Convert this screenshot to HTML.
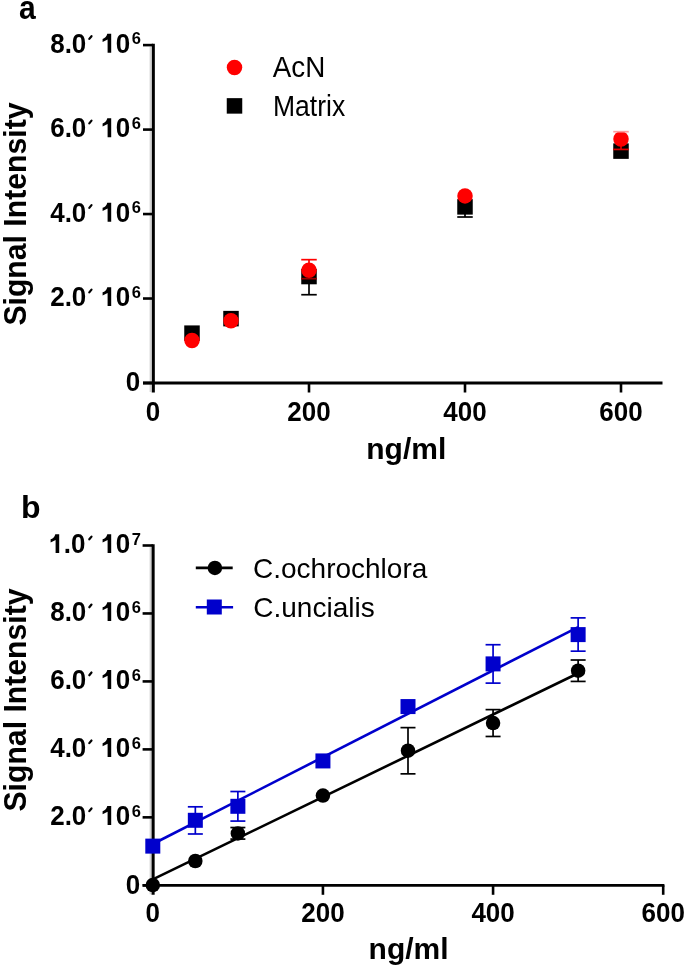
<!DOCTYPE html>
<html><head><meta charset="utf-8"><title>Signal Intensity charts</title>
<style>
html,body{margin:0;padding:0;background:#fff;}
body{width:685px;height:969px;overflow:hidden;}
svg{display:block;will-change:transform;filter:blur(0.4px);font-family:"Liberation Sans",sans-serif;}
</style></head><body>
<svg width="685" height="969" viewBox="0 0 685 969">
<rect width="685" height="969" fill="#fff"/>
<line x1="150.3" y1="46.6" x2="150.3" y2="392" stroke="#d4d4d4" stroke-width="1.4" />
<line x1="153.3" y1="43.8" x2="153.3" y2="392.5" stroke="#000000" stroke-width="3.1" />
<line x1="143" y1="383" x2="662.5" y2="383" stroke="#000000" stroke-width="2.8" />
<line x1="143" y1="383" x2="153" y2="383" stroke="#000000" stroke-width="2.6" />
<line x1="143" y1="298.52" x2="153" y2="298.52" stroke="#000000" stroke-width="2.6" />
<line x1="143" y1="214.05" x2="153" y2="214.05" stroke="#000000" stroke-width="2.6" />
<line x1="143" y1="129.58" x2="153" y2="129.58" stroke="#000000" stroke-width="2.6" />
<line x1="143" y1="45.1" x2="153" y2="45.1" stroke="#000000" stroke-width="2.6" />
<line x1="309" y1="383" x2="309" y2="392.5" stroke="#000000" stroke-width="2.6" />
<line x1="465" y1="383" x2="465" y2="392.5" stroke="#000000" stroke-width="2.6" />
<line x1="621" y1="383" x2="621" y2="392.5" stroke="#000000" stroke-width="2.6" />
<text transform="translate(50.2 52.7) scale(1 1.03)" font-size="26" font-weight="bold">8.0</text>
<path d="M89.3,38.9 L91.5,36.2" stroke="#000" stroke-width="2.2" stroke-linecap="round"/>
<path d="M107.3,33.8 L111.2,33.8 L111.2,52.7 L107.6,52.7 L107.6,39.5 L102.6,42 L102.6,38.9 C104.6,38.2 106.6,36.8 107.3,33.8 Z" fill="#000"/>
<text transform="translate(115.64 52.7) scale(1 1.03)" font-size="26" font-weight="bold">0</text>
<text x="131.86" y="44.3" font-size="16.5" font-weight="bold">6</text>
<text transform="translate(50.2 137.18) scale(1 1.03)" font-size="26" font-weight="bold">6.0</text>
<path d="M89.3,123.38 L91.5,120.68" stroke="#000" stroke-width="2.2" stroke-linecap="round"/>
<path d="M107.3,118.28 L111.2,118.28 L111.2,137.18 L107.6,137.18 L107.6,123.98 L102.6,126.48 L102.6,123.38 C104.6,122.68 106.6,121.28 107.3,118.28 Z" fill="#000"/>
<text transform="translate(115.64 137.18) scale(1 1.03)" font-size="26" font-weight="bold">0</text>
<text x="131.86" y="128.78" font-size="16.5" font-weight="bold">6</text>
<text transform="translate(50.2 221.65) scale(1 1.03)" font-size="26" font-weight="bold">4.0</text>
<path d="M89.3,207.85 L91.5,205.15" stroke="#000" stroke-width="2.2" stroke-linecap="round"/>
<path d="M107.3,202.75 L111.2,202.75 L111.2,221.65 L107.6,221.65 L107.6,208.45 L102.6,210.95 L102.6,207.85 C104.6,207.15 106.6,205.75 107.3,202.75 Z" fill="#000"/>
<text transform="translate(115.64 221.65) scale(1 1.03)" font-size="26" font-weight="bold">0</text>
<text x="131.86" y="213.25" font-size="16.5" font-weight="bold">6</text>
<text transform="translate(50.2 306.12) scale(1 1.03)" font-size="26" font-weight="bold">2.0</text>
<path d="M89.3,292.32 L91.5,289.62" stroke="#000" stroke-width="2.2" stroke-linecap="round"/>
<path d="M107.3,287.22 L111.2,287.22 L111.2,306.12 L107.6,306.12 L107.6,292.92 L102.6,295.42 L102.6,292.32 C104.6,291.62 106.6,290.22 107.3,287.22 Z" fill="#000"/>
<text transform="translate(115.64 306.12) scale(1 1.03)" font-size="26" font-weight="bold">0</text>
<text x="131.86" y="297.72" font-size="16.5" font-weight="bold">6</text>
<text transform="translate(140.3 391.3) scale(1 1.03)" font-size="26" font-weight="bold" text-anchor="end" >0</text>
<text transform="translate(153 420.6) scale(1 1.03)" font-size="26" font-weight="bold" text-anchor="middle" >0</text>
<text transform="translate(309 420.6) scale(1 1.03)" font-size="26" font-weight="bold" text-anchor="middle" >200</text>
<text transform="translate(465 420.6) scale(1 1.03)" font-size="26" font-weight="bold" text-anchor="middle" >400</text>
<text transform="translate(621 420.6) scale(1 1.03)" font-size="26" font-weight="bold" text-anchor="middle" >600</text>
<text x="406.3" y="458.5" font-size="30" font-weight="bold" text-anchor="middle" >ng/ml</text>
<text transform="translate(26.4 214.05) rotate(-90) scale(1 1.05)" x="0" y="0" font-size="30.2" font-weight="bold" text-anchor="middle">Signal Intensity</text>
<text transform="translate(19.1 19.0) scale(0.94 1.03)" font-size="32" font-weight="bold">a</text>
<circle cx="234.5" cy="67.5" r="7.75" fill="#ff0000"/>
<rect x="226.75" y="98.15" width="15.5" height="15.5" fill="#000000"/>
<text transform="translate(272.8 76.9) scale(1 1.04)" font-size="27.8" font-weight="normal" text-anchor="start" >AcN</text>
<text transform="translate(272.9 115.7) scale(0.955 1.04)" font-size="27.8">Matrix</text>
<rect x="184.25" y="325.41" width="15.5" height="15.5" fill="#000000"/>
<rect x="223.25" y="310.88" width="15.5" height="15.5" fill="#000000"/>
<line x1="309" y1="276.56" x2="309" y2="294.72" stroke="#000000" stroke-width="1.7" />
<line x1="301.25" y1="294.72" x2="316.75" y2="294.72" stroke="#000000" stroke-width="1.7" />
<rect x="301.25" y="268.81" width="15.5" height="15.5" fill="#000000"/>
<line x1="465" y1="206.87" x2="465" y2="217.01" stroke="#000000" stroke-width="1.7" />
<line x1="457.25" y1="217.01" x2="472.75" y2="217.01" stroke="#000000" stroke-width="1.7" />
<rect x="457.25" y="199.12" width="15.5" height="15.5" fill="#000000"/>
<rect x="613.25" y="143.37" width="15.5" height="15.5" fill="#000000"/>
<circle cx="192" cy="340.51" r="7.75" fill="#ff0000"/>
<circle cx="231" cy="320.74" r="7.75" fill="#ff0000"/>
<line x1="309" y1="270.23" x2="309" y2="259.67" stroke="#ff0000" stroke-width="1.7" />
<line x1="309" y1="270.23" x2="309" y2="278.67" stroke="#9a0000" stroke-width="1.7" />
<circle cx="309" cy="270.23" r="7.75" fill="#ff0000"/>
<line x1="301.25" y1="259.67" x2="316.75" y2="259.67" stroke="#ff0000" stroke-width="1.7" />
<line x1="301.25" y1="278.67" x2="316.75" y2="278.67" stroke="#9a0000" stroke-width="1.7" />
<circle cx="465" cy="195.89" r="7.75" fill="#ff0000"/>
<line x1="621" y1="139.08" x2="621" y2="131.69" stroke="#ff9c9c" stroke-width="1.7" />
<line x1="621" y1="139.08" x2="621" y2="149.43" stroke="#e00000" stroke-width="1.7" />
<circle cx="621" cy="139.08" r="7.75" fill="#ff0000"/>
<line x1="613.25" y1="131.69" x2="628.75" y2="131.69" stroke="#ff9c9c" stroke-width="1.7" />
<line x1="613.25" y1="149.43" x2="628.75" y2="149.43" stroke="#e00000" stroke-width="1.7" />
<line x1="150.3" y1="547" x2="150.3" y2="894.3" stroke="#d4d4d4" stroke-width="1.4" />
<line x1="153.1" y1="544.2" x2="153.1" y2="894.8" stroke="#000000" stroke-width="3.1" />
<line x1="142.6" y1="885.3" x2="664.4" y2="885.3" stroke="#000000" stroke-width="2.8" />
<line x1="142.6" y1="885.3" x2="152.8" y2="885.3" stroke="#000000" stroke-width="2.6" />
<line x1="142.6" y1="817.34" x2="152.8" y2="817.34" stroke="#000000" stroke-width="2.6" />
<line x1="142.6" y1="749.38" x2="152.8" y2="749.38" stroke="#000000" stroke-width="2.6" />
<line x1="142.6" y1="681.42" x2="152.8" y2="681.42" stroke="#000000" stroke-width="2.6" />
<line x1="142.6" y1="613.46" x2="152.8" y2="613.46" stroke="#000000" stroke-width="2.6" />
<line x1="142.6" y1="545.5" x2="152.8" y2="545.5" stroke="#000000" stroke-width="2.6" />
<line x1="322.93" y1="885.3" x2="322.93" y2="894.8" stroke="#000000" stroke-width="2.6" />
<line x1="493.07" y1="885.3" x2="493.07" y2="894.8" stroke="#000000" stroke-width="2.6" />
<line x1="663.2" y1="885.3" x2="663.2" y2="894.8" stroke="#000000" stroke-width="2.6" />
<path d="M55.3,534.2 L59.2,534.2 L59.2,553.1 L55.6,553.1 L55.6,539.9 L50.6,542.4 L50.6,539.3 C52.6,538.6 54.6,537.2 55.3,534.2 Z" fill="#000"/>
<text transform="translate(63.66 553.1) scale(1 1.03)" font-size="26" font-weight="bold">.0</text>
<path d="M89.3,539.3 L91.5,536.6" stroke="#000" stroke-width="2.2" stroke-linecap="round"/>
<path d="M107.3,534.2 L111.2,534.2 L111.2,553.1 L107.6,553.1 L107.6,539.9 L102.6,542.4 L102.6,539.3 C104.6,538.6 106.6,537.2 107.3,534.2 Z" fill="#000"/>
<text transform="translate(115.64 553.1) scale(1 1.03)" font-size="26" font-weight="bold">0</text>
<text x="131.86" y="544.7" font-size="16.5" font-weight="bold">7</text>
<text transform="translate(50.2 621.06) scale(1 1.03)" font-size="26" font-weight="bold">8.0</text>
<path d="M89.3,607.26 L91.5,604.56" stroke="#000" stroke-width="2.2" stroke-linecap="round"/>
<path d="M107.3,602.16 L111.2,602.16 L111.2,621.06 L107.6,621.06 L107.6,607.86 L102.6,610.36 L102.6,607.26 C104.6,606.56 106.6,605.16 107.3,602.16 Z" fill="#000"/>
<text transform="translate(115.64 621.06) scale(1 1.03)" font-size="26" font-weight="bold">0</text>
<text x="131.86" y="612.66" font-size="16.5" font-weight="bold">6</text>
<text transform="translate(50.2 689.02) scale(1 1.03)" font-size="26" font-weight="bold">6.0</text>
<path d="M89.3,675.22 L91.5,672.52" stroke="#000" stroke-width="2.2" stroke-linecap="round"/>
<path d="M107.3,670.12 L111.2,670.12 L111.2,689.02 L107.6,689.02 L107.6,675.82 L102.6,678.32 L102.6,675.22 C104.6,674.52 106.6,673.12 107.3,670.12 Z" fill="#000"/>
<text transform="translate(115.64 689.02) scale(1 1.03)" font-size="26" font-weight="bold">0</text>
<text x="131.86" y="680.62" font-size="16.5" font-weight="bold">6</text>
<text transform="translate(50.2 756.98) scale(1 1.03)" font-size="26" font-weight="bold">4.0</text>
<path d="M89.3,743.18 L91.5,740.48" stroke="#000" stroke-width="2.2" stroke-linecap="round"/>
<path d="M107.3,738.08 L111.2,738.08 L111.2,756.98 L107.6,756.98 L107.6,743.78 L102.6,746.28 L102.6,743.18 C104.6,742.48 106.6,741.08 107.3,738.08 Z" fill="#000"/>
<text transform="translate(115.64 756.98) scale(1 1.03)" font-size="26" font-weight="bold">0</text>
<text x="131.86" y="748.58" font-size="16.5" font-weight="bold">6</text>
<text transform="translate(50.2 824.94) scale(1 1.03)" font-size="26" font-weight="bold">2.0</text>
<path d="M89.3,811.14 L91.5,808.44" stroke="#000" stroke-width="2.2" stroke-linecap="round"/>
<path d="M107.3,806.04 L111.2,806.04 L111.2,824.94 L107.6,824.94 L107.6,811.74 L102.6,814.24 L102.6,811.14 C104.6,810.44 106.6,809.04 107.3,806.04 Z" fill="#000"/>
<text transform="translate(115.64 824.94) scale(1 1.03)" font-size="26" font-weight="bold">0</text>
<text x="131.86" y="816.54" font-size="16.5" font-weight="bold">6</text>
<text transform="translate(140.3 893.6) scale(1 1.03)" font-size="26" font-weight="bold" text-anchor="end" >0</text>
<text transform="translate(152.8 922.4) scale(1 1.03)" font-size="26" font-weight="bold" text-anchor="middle" >0</text>
<text transform="translate(322.93 922.4) scale(1 1.03)" font-size="26" font-weight="bold" text-anchor="middle" >200</text>
<text transform="translate(493.07 922.4) scale(1 1.03)" font-size="26" font-weight="bold" text-anchor="middle" >400</text>
<text transform="translate(663.2 922.4) scale(1 1.03)" font-size="26" font-weight="bold" text-anchor="middle" >600</text>
<text x="408.6" y="959.4" font-size="30" font-weight="bold" text-anchor="middle" >ng/ml</text>
<text transform="translate(26.4 700) rotate(-90) scale(1 1.05)" x="0" y="0" font-size="30.2" font-weight="bold" text-anchor="middle">Signal Intensity</text>
<text x="21" y="517.5" font-size="32" font-weight="bold" text-anchor="start" >b</text>
<line x1="195.8" y1="567.9" x2="232.7" y2="567.9" stroke="#000000" stroke-width="2.6" />
<circle cx="214.9" cy="567.9" r="7.25" fill="#000000"/>
<line x1="195.8" y1="607.3" x2="233.1" y2="607.3" stroke="#0000cc" stroke-width="2.6" />
<rect x="206.8" y="599.5" width="15" height="15" fill="#0000cc"/>
<text transform="translate(253 577.8) scale(1 1.0001)" font-size="28" font-weight="normal" text-anchor="start" >C.ochrochlora</text>
<text transform="translate(253.3 616.8) scale(1 1.0001)" font-size="28" font-weight="normal" text-anchor="start" >C.uncialis</text>
<line x1="152.8" y1="879.4" x2="578.13" y2="673.28" stroke="#000000" stroke-width="2.6" />
<line x1="152.8" y1="843.97" x2="578.13" y2="627.05" stroke="#0000cc" stroke-width="2.6" />
<circle cx="152.8" cy="885.1" r="7.25" fill="#000000"/>
<circle cx="195.33" cy="861" r="7.25" fill="#000000"/>
<line x1="237.87" y1="833.41" x2="237.87" y2="827.53" stroke="#000000" stroke-width="1.7" />
<line x1="230.37" y1="827.53" x2="245.37" y2="827.53" stroke="#000000" stroke-width="1.7" />
<line x1="237.87" y1="833.41" x2="237.87" y2="839.09" stroke="#000000" stroke-width="1.7" />
<line x1="230.37" y1="839.09" x2="245.37" y2="839.09" stroke="#000000" stroke-width="1.7" />
<circle cx="237.87" cy="833.41" r="7.25" fill="#000000"/>
<circle cx="322.93" cy="795.59" r="7.25" fill="#000000"/>
<line x1="408" y1="750.74" x2="408" y2="727.63" stroke="#000000" stroke-width="1.7" />
<line x1="400.5" y1="727.63" x2="415.5" y2="727.63" stroke="#000000" stroke-width="1.7" />
<line x1="408" y1="750.74" x2="408" y2="773.85" stroke="#000000" stroke-width="1.7" />
<line x1="400.5" y1="773.85" x2="415.5" y2="773.85" stroke="#000000" stroke-width="1.7" />
<circle cx="408" cy="750.74" r="7.25" fill="#000000"/>
<line x1="493.07" y1="723.01" x2="493.07" y2="709.62" stroke="#000000" stroke-width="1.7" />
<line x1="485.57" y1="709.62" x2="500.57" y2="709.62" stroke="#000000" stroke-width="1.7" />
<line x1="493.07" y1="723.01" x2="493.07" y2="736.47" stroke="#000000" stroke-width="1.7" />
<line x1="485.57" y1="736.47" x2="500.57" y2="736.47" stroke="#000000" stroke-width="1.7" />
<circle cx="493.07" cy="723.01" r="7.25" fill="#000000"/>
<line x1="578.13" y1="670.72" x2="578.13" y2="660.01" stroke="#000000" stroke-width="1.7" />
<line x1="570.63" y1="660.01" x2="585.63" y2="660.01" stroke="#000000" stroke-width="1.7" />
<line x1="578.13" y1="670.72" x2="578.13" y2="681.42" stroke="#000000" stroke-width="1.7" />
<line x1="570.63" y1="681.42" x2="585.63" y2="681.42" stroke="#000000" stroke-width="1.7" />
<circle cx="578.13" cy="670.72" r="7.25" fill="#000000"/>
<rect x="145.3" y="838.62" width="15" height="15" fill="#0000cc"/>
<line x1="195.33" y1="820.3" x2="195.33" y2="806.81" stroke="#0000cc" stroke-width="1.7" />
<line x1="187.83" y1="806.81" x2="202.83" y2="806.81" stroke="#0000cc" stroke-width="1.7" />
<line x1="195.33" y1="820.3" x2="195.33" y2="833.99" stroke="#0000cc" stroke-width="1.7" />
<line x1="187.83" y1="833.99" x2="202.83" y2="833.99" stroke="#0000cc" stroke-width="1.7" />
<rect x="187.83" y="812.8" width="15" height="15" fill="#0000cc"/>
<line x1="237.87" y1="806.3" x2="237.87" y2="791.52" stroke="#0000cc" stroke-width="1.7" />
<line x1="230.37" y1="791.52" x2="245.37" y2="791.52" stroke="#0000cc" stroke-width="1.7" />
<line x1="237.87" y1="806.3" x2="237.87" y2="821.08" stroke="#0000cc" stroke-width="1.7" />
<line x1="230.37" y1="821.08" x2="245.37" y2="821.08" stroke="#0000cc" stroke-width="1.7" />
<rect x="230.37" y="798.8" width="15" height="15" fill="#0000cc"/>
<rect x="315.43" y="753.43" width="15" height="15" fill="#0000cc"/>
<rect x="400.5" y="699.07" width="15" height="15" fill="#0000cc"/>
<line x1="493.07" y1="663.89" x2="493.07" y2="644.72" stroke="#0000cc" stroke-width="1.7" />
<line x1="485.57" y1="644.72" x2="500.57" y2="644.72" stroke="#0000cc" stroke-width="1.7" />
<line x1="493.07" y1="663.89" x2="493.07" y2="683.12" stroke="#0000cc" stroke-width="1.7" />
<line x1="485.57" y1="683.12" x2="500.57" y2="683.12" stroke="#0000cc" stroke-width="1.7" />
<rect x="485.57" y="656.39" width="15" height="15" fill="#0000cc"/>
<line x1="578.13" y1="634.6" x2="578.13" y2="617.88" stroke="#0000cc" stroke-width="1.7" />
<line x1="570.63" y1="617.88" x2="585.63" y2="617.88" stroke="#0000cc" stroke-width="1.7" />
<line x1="578.13" y1="634.6" x2="578.13" y2="651.18" stroke="#0000cc" stroke-width="1.7" />
<line x1="570.63" y1="651.18" x2="585.63" y2="651.18" stroke="#0000cc" stroke-width="1.7" />
<rect x="570.63" y="627.1" width="15" height="15" fill="#0000cc"/>
</svg>
</body></html>
